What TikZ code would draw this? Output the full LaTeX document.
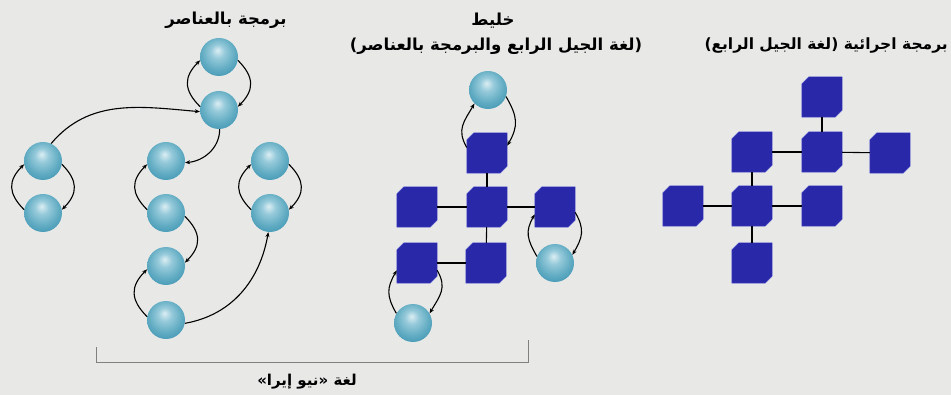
\documentclass[tikz,border=0pt]{standalone}
\usepackage{fontspec}
\usetikzlibrary{arrows.meta}
\TeXXeTstate=1
\newfontfamily\arabicfont[Script=Arabic]{DejaVu Sans}
\definecolor{bgc}{RGB}{232,233,231}
\definecolor{cubec}{RGB}{40,40,168}
\definecolor{cubeedge}{RGB}{75,75,205}
\definecolor{sphA}{RGB}{220,238,243}
\definecolor{sphB}{RGB}{150,202,218}
\definecolor{sphC}{RGB}{96,171,194}
\definecolor{sphD}{RGB}{66,150,180}
\pgfdeclareradialshading{spherebl}{\pgfpoint{-2bp}{9bp}}{color(0bp)=(sphA); color(9bp)=(sphB); color(22bp)=(sphC); color(32bp)=(sphD); color(50bp)=(sphD)}
\begin{document}
\begin{tikzpicture}[x=1pt,y=1pt,
  sph/.style={circle,minimum size=38pt,inner sep=0pt,shading=spherebl},
  cube/.style={rectangle,minimum width=40pt,minimum height=40pt,inner sep=0pt},
  cubefill/.style={fill=cubec,draw=cubeedge,line width=0.4pt,line join=miter},
  arr/.style={-{Stealth[length=5pt,width=4pt]},line width=1.1pt,black},
  link/.style={line width=1.1pt,black},
  lbl/.style={font=\arabicfont\bfseries\fontsize{16.5}{19}\selectfont,inner sep=0pt}]
\useasboundingbox (0,0) rectangle (951,-395);
\fill[bgc] (0,0) rectangle (951,-395);
% left: object programming
\node[sph] (A1) at (219,-57) {};
\node[sph] (A2) at (219,-110) {};
\node[sph] (B1) at (43,-161) {};
\node[sph] (B2) at (43,-213) {};
\node[sph] (C1) at (166,-161) {};
\node[sph] (C2) at (166,-213) {};
\node[sph] (C3) at (166,-266) {};
\node[sph] (C4) at (166,-320) {};
\node[sph] (D1) at (270,-161) {};
\node[sph] (D2) at (270,-213) {};
\foreach \u/\l in {A1/A2,B1/B2,D1/D2}{
  \draw[arr] (\l.170) to[out=135,in=-135,looseness=1.3] (\u.190);
  \draw[arr] (\u.-10) to[out=-45,in=45,looseness=1.3] (\l.10);
}
\draw[arr] (C2.170) to[out=135,in=-135,looseness=1.3] (C1.190);
\draw[arr] (C2.-10) to[out=-45,in=45,looseness=1.3] (C3.10);
\draw[arr] (C4.170) to[out=135,in=-135,looseness=1.3] (C3.190);
\draw[arr] (B1.65) to[out=50,in=175] (A2.185);
\draw[arr] (A2.272) to[out=-90,in=5] (C1.-5);
\draw[arr] (C4.-10) to[out=10,in=-100] (D2.-95);
% middle: mixed
\node[sph] (S1) at (488,-90) {};
\node[cube] (M1) at (487,-153) {};
\node[cube] (M2) at (417,-207) {};
\node[cube] (M3) at (487,-207) {};
\node[cube] (M4) at (555,-207) {};
\node[cube] (M5) at (417,-263) {};
\node[cube] (M6) at (486,-263) {};
\node[sph] (S4) at (555,-263) {};
\node[sph] (S5) at (413,-323) {};
% right: procedural
\node[cube] (R1) at (822,-97) {};
\node[cube] (R2) at (752,-152) {};
\node[cube] (R3) at (822,-152) {};
\node[cube] (R4) at (890,-153) {};
\node[cube] (R5) at (683,-206) {};
\node[cube] (R6) at (752,-206) {};
\node[cube] (R7) at (822,-206) {};
\node[cube] (R8) at (752,-263) {};
\foreach \c in {M1,M2,M3,M4,M5,M6,R1,R2,R3,R4,R5,R6,R7,R8}{
  \filldraw[cubefill] ([xshift=7pt]\c.north west) -- (\c.north east) -- ([yshift=7pt]\c.south east)
    -- ([xshift=-7pt]\c.south east) -- (\c.south west) -- ([yshift=-7pt]\c.north west) -- cycle;
}
\draw[link] (M1) -- (M3);
\draw[link] (M2) -- (M3);
\draw[link] (M3) -- (M4);
\draw[link] (M3) -- (M6);
\draw[link] (M5) -- (M6);
\draw[arr] (M1.165) to[out=120,in=-120,looseness=1.2] (S1.225);
\draw[arr] (S1.-20) to[out=-60,in=60,looseness=1.2] (M1.20);
\draw[arr] (S4.160) to[out=120,in=-120,looseness=1.2] (M4.200);
\draw[arr] (M4.-15) to[out=-60,in=60,looseness=1.2] (S4.25);
\draw[arr] (S5.150) to[out=120,in=-120,looseness=1.2] (M5.200);
\draw[arr] (M5.-20) to[out=-60,in=60,looseness=1.2] (S5.30);
\draw[link] (R1) -- (R3);
\draw[link] (R2) -- (R3);
\draw[link] (R3) -- (R4);
\draw[link] (R2) -- (R6);
\draw[link] (R5) -- (R6);
\draw[link] (R6) -- (R7);
\draw[link] (R6) -- (R8);
% labels
\node[lbl] (tObj) at (226,-20) {\beginR برمجة بالعناصر\endR};
\node[lbl] (tMix) at (493,-21) {\beginR خليط\endR};
\node[lbl] (tMix2) at (496,-46) {\beginR (لغة الجيل الرابع والبرمجة بالعناصر)\endR};
\node[lbl,anchor=east,font=\arabicfont\bfseries\fontsize{15.5}{18}\selectfont] (tProc) at (948,-46) {\beginR برمجة اجرائية (لغة الجيل الرابع)\endR};
\node[lbl,font=\arabicfont\bfseries\fontsize{15}{18}\selectfont] (tNeo) at (307,-382) {\beginR لغة «نيو إيرا»\endR};
\draw[gray,line width=0.6pt] (96,-347) -- (96,-362) -- (528,-362) -- (528,-340);
\end{tikzpicture}
\end{document}
